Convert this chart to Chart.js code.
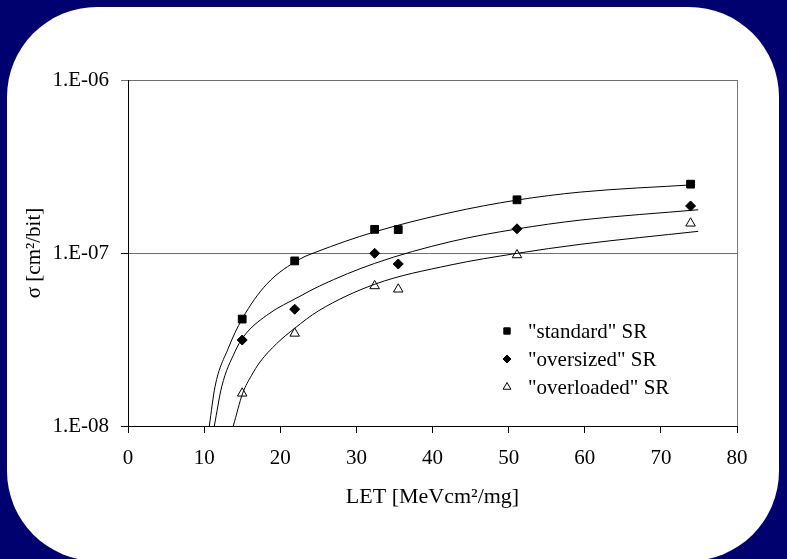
<!DOCTYPE html>
<html>
<head>
<meta charset="utf-8">
<script src="https://cdn.jsdelivr.net/npm/chart.js@4.4.1/dist/chart.umd.min.js"></script>
<style>
  html, body { margin: 0; padding: 0; background: #00006f; }
  #wrap { position: relative; width: 787px; height: 559px; overflow: hidden; background: #00006f; }
  #card { position: absolute; left: 7px; top: 7px; width: 772px; height: 554px; background: #fff; border-radius: 90px; }
  #c { position: absolute; left: 0; top: 0; }
</style>
</head>
<body>
<div id="wrap">
  <div id="card"></div>
  <canvas id="c" width="787" height="559"></canvas>
</div>
<script>
// measured points (LET, cross-section)
var letX = [15.0, 21.9, 32.4, 35.5, 51.1, 73.9];
var standardSR = [4.15e-8, 9.0e-8, 1.37e-7, 1.365e-7, 2.03e-7, 2.5e-7];
var oversizedSR = [3.14e-8, 4.73e-8, 9.96e-8, 8.64e-8, 1.38e-7, 1.87e-7];
var overloadedSR = [1.545e-8, 3.43e-8, 6.45e-8, 6.17e-8, 9.74e-8, 1.485e-7];

// fit curves
var fitStdX = [10.68, 11.43, 13.18, 14.98, 18.22, 22.59, 24.7, 32.3, 42.3, 51.1, 59.4, 74.5];
var fitStdY = [1.0e-8, 1.687e-8, 2.818e-8, 4.15e-8, 6.607e-8, 9.226e-8, 1.012e-7, 1.321e-7, 1.71e-7, 2.023e-7, 2.249e-7, 2.483e-7];
var fitOvsX = [11.34, 12.31, 14.06, 15.15, 18.22, 22.59, 25.2, 32.4, 42.3, 51.1, 59.4, 74.9];
var fitOvsY = [1.0e-8, 1.687e-8, 2.692e-8, 3.273e-8, 4.365e-8, 5.623e-8, 6.457e-8, 8.71e-8, 1.161e-7, 1.377e-7, 1.549e-7, 1.778e-7];
var fitOvlX = [13.83, 15.07, 16.2, 17.34, 19.5, 21.9, 25.0, 32.45, 42.3, 51.1, 59.4, 74.9];
var fitOvlY = [1.0e-8, 1.549e-8, 1.95e-8, 2.344e-8, 2.985e-8, 3.673e-8, 4.624e-8, 6.607e-8, 8.511e-8, 9.954e-8, 1.122e-7, 1.334e-7];

var yTicks = [1e-8, 1e-7, 1e-6];
var yTickLabels = ['1.E-08', '1.E-07', '1.E-06'];
var legendLabels = ['"standard" SR', '"oversized" SR', '"overloaded" SR'];

function pts(xs, ys) {
    return xs.map(function (x, i) { return {x: x, y: ys[i]}; });
}

var fontFam = "'Liberation Serif', 'Times New Roman', serif";
var fontSize = 21;

function curve(xs, ys) {
    return {
        type: 'line',
        data: pts(xs, ys),
        borderColor: '#000',
        borderWidth: 1,
        pointRadius: 0,
        fill: false,
        cubicInterpolationMode: 'monotone'
    };
}

var markers = [
    {style: 'rect', radius: 5.5, fill: '#000'},
    {style: 'rectRot', radius: 5, fill: '#000'},
    {style: 'triangle', radius: 5.5, fill: '#fff'}
];

function scatter(ys, m) {
    return {
        type: 'scatter',
        data: pts(letX, ys),
        pointStyle: m.style,
        pointRadius: m.radius,
        pointBackgroundColor: m.fill,
        pointBorderColor: '#000',
        pointBorderWidth: 1,
        showLine: false
    };
}

// legend drawn inside the plot area
var innerLegend = {
    id: 'innerLegend',
    afterDatasetsDraw: function (chart) {
        var ctx = chart.ctx;
        var x0 = 507, y0 = 331, dy = 28;
        ctx.save();
        ctx.font = fontSize + 'px ' + fontFam;
        ctx.textBaseline = 'middle';
        ctx.textAlign = 'left';
        for (var i = 0; i < legendLabels.length; i++) {
            var m = markers[i];
            ctx.fillStyle = m.fill;
            ctx.strokeStyle = '#000';
            ctx.lineWidth = 1;
            Chart.helpers.drawPoint(ctx, {pointStyle: m.style, radius: m.radius - 1, borderWidth: 1}, x0, y0 + i * dy);
            ctx.fillStyle = '#000';
            ctx.fillText(legendLabels[i], x0 + 21, y0 + i * dy + 1);
        }
        ctx.restore();
    }
};

new Chart(document.getElementById('c').getContext('2d'), {
    data: {
        datasets: [
            curve(fitStdX, fitStdY),
            curve(fitOvsX, fitOvsY),
            curve(fitOvlX, fitOvlY),
            scatter(standardSR, markers[0]),
            scatter(oversizedSR, markers[1]),
            scatter(overloadedSR, markers[2])
        ]
    },
    options: {
        responsive: false,
        animation: false,
        layout: { padding: {top: 80, right: 50, bottom: 0, left: 0} },
        scales: {
            x: {
                type: 'linear',
                min: 0,
                max: 80,
                afterFit: function (s) { s.height = 133; },
                ticks: {
                    stepSize: 10,
                    color: '#000',
                    padding: 13,
                    font: {family: fontFam, size: fontSize}
                },
                grid: {
                    drawOnChartArea: true,
                    color: function (c) { return c.tick && c.tick.value === 80 ? '#777' : 'rgba(0,0,0,0)'; },
                    tickColor: '#000',
                    tickLength: 7
                },
                border: { color: '#000', width: 1 },
                title: {
                    display: true,
                    text: 'LET [MeVcm\u00b2/mg]',
                    color: '#000',
                    font: {family: fontFam, size: 22},
                    padding: {top: 0, bottom: 49}
                }
            },
            y: {
                type: 'logarithmic',
                min: 1e-8,
                max: 1e-6,
                afterFit: function (s) { s.width = 128; },
                afterBuildTicks: function (s) {
                    s.ticks = yTicks.map(function (v) { return {value: v, major: true}; });
                },
                ticks: {
                    color: '#000',
                    padding: 12,
                    font: {family: fontFam, size: fontSize},
                    callback: function (v) { return yTickLabels[yTicks.indexOf(v)]; }
                },
                grid: {
                    color: function (c) { return c.tick && c.tick.value === 1e-8 ? 'rgba(0,0,0,0)' : '#6e6e6e'; },
                    tickColor: function (c) { return c.tick && c.tick.value === 1e-6 ? '#6e6e6e' : '#000'; },
                    tickLength: 7
                },
                border: { color: '#000', width: 1 },
                title: {
                    display: true,
                    text: '\u03c3 [cm\u00b2/bit]',
                    color: '#000',
                    font: {family: fontFam, size: fontSize},
                    padding: {top: 22, bottom: 0}
                }
            }
        },
        plugins: {
            legend: { display: false },
            tooltip: { enabled: false }
        }
    },
    plugins: [innerLegend]
});
</script>
</body>
</html>
